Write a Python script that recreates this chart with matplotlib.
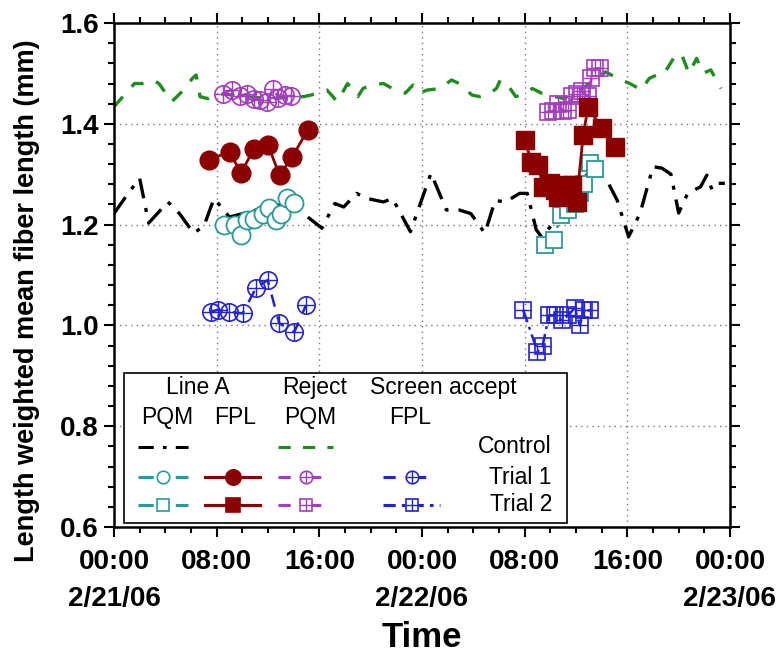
import matplotlib
matplotlib.use("Agg")
import matplotlib.pyplot as plt
from matplotlib.lines import Line2D
from matplotlib.patches import Rectangle
from matplotlib.ticker import MultipleLocator

plt.rcParams['font.family'] = ['Liberation Sans', 'DejaVu Sans']

# hours since 2/21/06 00:00
ctrl_pqm_t = [0.0, 1.1, 2.0, 2.7, 4.2, 5.1, 6.2, 7.0, 7.8, 9.0, 10.5, 12.0, 13.2, 14.4,
              16.2, 17.2, 17.9, 18.9, 19.7, 21.0, 21.7, 23.1, 24.7, 25.9, 26.9, 27.8,
              28.9, 29.7, 30.5, 31.6, 32.2, 32.9, 33.3, 34.5, 35.8, 37.2, 38.4, 39.2,
              40.1, 41.0, 42.0, 42.7, 43.4, 44.0, 44.7, 45.7, 46.2, 46.6, 47.1, 47.6]
ctrl_pqm_v = [1.222, 1.262, 1.292, 1.203, 1.245, 1.222, 1.183, 1.197, 1.252, 1.215, 1.225,
              1.235, 1.24, 1.229, 1.193, 1.242, 1.235, 1.262, 1.252, 1.245, 1.252, 1.186,
              1.302, 1.229, 1.229, 1.222, 1.183, 1.248, 1.245, 1.262, 1.262, 1.19, 1.176,
              1.21, 1.25, 1.315, 1.288, 1.249, 1.176, 1.223, 1.315, 1.312, 1.30, 1.223,
              1.262, 1.275, 1.298, 1.269, 1.282, 1.282]

ctrl_rej_t = [0.0, 0.8, 1.6, 2.2, 3.0, 3.5, 4.5, 5.3, 6.1, 6.4, 6.7, 7.3, 8.1, 10.0, 12.0,
              14.8, 16.0, 16.6, 17.4, 18.2, 19.0, 19.4, 20.0, 21.0, 21.9, 22.7, 23.3,
              23.8, 24.4, 25.4, 26.3, 26.9, 27.9, 28.5, 29.3, 29.8, 30.1, 30.6, 31.3,
              31.7, 32.6, 33.3, 35.0, 36.5, 38.3, 39.5, 40.2, 41.1, 41.7, 42.3, 42.8,
              43.6, 44.2, 44.8, 45.4, 45.9, 46.5, 47.3]
ctrl_rej_v = [1.434, 1.457, 1.48, 1.48, 1.487, 1.48, 1.444, 1.464, 1.49, 1.497, 1.454,
              1.45, 1.46, 1.455, 1.45, 1.454, 1.461, 1.467, 1.444, 1.48, 1.454, 1.47,
              1.477, 1.48, 1.467, 1.461, 1.477, 1.461, 1.467, 1.47, 1.487, 1.48, 1.457,
              1.454, 1.461, 1.47, 1.487, 1.48, 1.454, 1.457, 1.47, 1.461, 1.45, 1.47,
              1.503, 1.487, 1.48, 1.467, 1.49, 1.497, 1.497, 1.53, 1.54, 1.50, 1.53,
              1.50, 1.507, 1.47]

# Trial 1 (2/21)
t1_pqm_t = [8.6, 9.4, 9.9, 10.4, 10.9, 11.6, 12.1, 12.6, 13.0, 13.5, 14.05]
t1_pqm_v = [1.20, 1.20, 1.18, 1.209, 1.212, 1.222, 1.232, 1.209, 1.222, 1.252, 1.242]
t1_fpl_t = [7.4, 9.0, 9.9, 10.9, 12.0, 12.9, 13.9, 15.1]
t1_fpl_v = [1.328, 1.345, 1.302, 1.351, 1.358, 1.298, 1.335, 1.388]
t1_rej_t = [8.5, 9.2, 9.8, 10.4, 10.9, 11.4, 11.9, 12.4, 12.8, 13.3, 13.8]
t1_rej_v = [1.46, 1.468, 1.455, 1.46, 1.45, 1.448, 1.443, 1.47, 1.452, 1.458, 1.455]
t1_scr_t = [7.55, 8.07, 8.98, 10.02, 11.06, 11.97, 12.88, 14.05, 14.96]
t1_scr_v = [1.027, 1.031, 1.027, 1.024, 1.074, 1.09, 1.004, 0.987, 1.04]

# Trial 2 (2/22)
t2_pqm_t = [33.6, 34.3, 34.8, 35.4, 35.9, 36.3, 36.6, 37.1, 37.5]
t2_pqm_v = [1.16, 1.17, 1.22, 1.23, 1.24, 1.262, 1.28, 1.322, 1.31]
t2_fpl_t = [32.0, 32.53, 33.05, 33.44, 33.96, 34.35, 34.61, 35.13, 35.65, 36.04,
            36.56, 36.95, 37.99, 39.03]
t2_fpl_v = [1.368, 1.325, 1.318, 1.275, 1.282, 1.269, 1.255, 1.279, 1.279, 1.245,
            1.378, 1.434, 1.391, 1.355]
t2_rej_t = [33.8, 34.2, 34.6, 35.0, 35.4, 35.7, 36.1, 36.5, 36.9, 37.2, 37.5, 37.9]
t2_rej_v = [1.424, 1.425, 1.44, 1.425, 1.427, 1.455, 1.46, 1.465, 1.455, 1.49, 1.51, 1.51]
t2_scr_t = [31.9, 33.0, 33.4, 33.9, 34.4, 34.9, 35.4, 35.9, 36.3, 36.6, 37.1]
t2_scr_v = [1.03, 0.948, 0.96, 1.02, 1.02, 1.01, 1.02, 1.035, 1.00, 1.03, 1.03]

xtick_pos = [0, 8, 16, 24, 32, 40, 48]
xtick_lab = ['00:00\n2/21/06', '08:00', '16:00', '00:00\n2/22/06', '08:00', '16:00',
             '00:00\n2/23/06']

black = 'black'
green = '#1e8c1e'
teal = '#2a9a98'
dred = '#8b0000'
purple = '#a43cc0'
blue = '#2323d2'

fig = plt.figure(figsize=(7.83, 6.6), dpi=100)
ax = fig.add_axes([0.1456, 0.2015, 0.7867, 0.7636])

ax.plot(ctrl_pqm_t, ctrl_pqm_v, color=black, lw=2.4, ls=(0, (6, 3, 1.2, 3)), zorder=2)
ax.plot(ctrl_rej_t, ctrl_rej_v, color=green, lw=2.4, ls=(0, (4, 4)), zorder=2)

def plus_marker(t, v, color, marker, ms, ls, lw=1.8):
    ax.plot(t, v, color=color, ls=ls, lw=lw, marker=marker, ms=ms, mfc='none',
            mec=color, mew=1.2, zorder=4)
    ax.plot(t, v, ls='none', marker='+', ms=ms, mec=color, mew=1.0, zorder=4)

# trial 1
ax.plot(t1_pqm_t, t1_pqm_v, color=teal, ls=(0, (6, 3, 1.2, 3)), lw=1.8, marker='o',
        ms=13, mfc='white', mec=teal, mew=1.3, zorder=3)
ax.plot(t1_fpl_t, t1_fpl_v, color=dred, ls='-', lw=2.0, marker='o', ms=13.5,
        mfc=dred, mec=dred, zorder=5)
plus_marker(t1_rej_t, t1_rej_v, purple, 'o', 12.5, (0, (4, 3)))
plus_marker(t1_scr_t, t1_scr_v, blue, 'o', 12.5, (0, (5, 4)))

# trial 2
ax.plot(t2_pqm_t, t2_pqm_v, color=teal, ls=(0, (6, 3, 1.2, 3)), lw=1.8, marker='s',
        ms=12, mfc='white', mec=teal, mew=1.3, zorder=3)
ax.plot(t2_fpl_t, t2_fpl_v, color=dred, ls='-', lw=2.0, marker='s', ms=13,
        mfc=dred, mec=dred, zorder=5)
plus_marker(t2_rej_t, t2_rej_v, purple, 's', 11.5, (0, (4, 3)))
plus_marker(t2_scr_t, t2_scr_v, blue, 's', 11.5, (0, (5, 2, 1.2, 2)))

ax.set_xlim(0, 48)
ax.set_ylim(0.6, 1.6)
ax.xaxis.set_major_locator(MultipleLocator(8))
ax.xaxis.set_minor_locator(MultipleLocator(2))
ax.yaxis.set_major_locator(MultipleLocator(0.2))
ax.yaxis.set_minor_locator(MultipleLocator(0.04))
ax.set_xticks(xtick_pos)
ax.set_xticklabels(xtick_lab, fontsize=20, fontweight='bold', linespacing=1.55)
ax.set_yticks([0.6, 0.8, 1.0, 1.2, 1.4, 1.6])
ax.set_yticklabels(['0.6', '0.8', '1.0', '1.2', '1.4', '1.6'], fontsize=20,
                   fontweight='bold')
ax.tick_params(which='both', direction='out', top=True, right=True, labeltop=False,
               labelright=False, width=1.5)
ax.tick_params(which='major', length=7, pad=4)
ax.tick_params(axis='x', which='major', pad=9)
ax.tick_params(which='minor', length=4)
for s in ax.spines.values():
    s.set_linewidth(1.8)
ax.grid(True, which='major', ls=(0, (1, 3)), color='#777777', lw=1.0)

ax.set_ylabel('Length weighted mean fiber length (mm)', fontsize=19.5,
              fontweight='bold')
ax.yaxis.set_label_coords(-0.12, 0.45)
ax.set_xlabel('Time', fontsize=25, fontweight='bold', labelpad=6)

# custom legend table
tr = ax.transAxes
ax.add_patch(Rectangle((0.016, 0.008), 0.719, 0.298, transform=tr, facecolor='white',
                       edgecolor='black', lw=1.2, zorder=8))
fs = 16.5
for x, y, s in [(0.136, 0.276, 'Line A'), (0.325, 0.276, 'Reject'),
                (0.534, 0.276, 'Screen accept'), (0.086, 0.218, 'PQM'),
                (0.196, 0.218, 'FPL'), (0.318, 0.218, 'PQM'), (0.48, 0.218, 'FPL')]:
    ax.text(x, y, s, transform=tr, ha='center', va='center', fontsize=fs, zorder=9)
for y, s in [(0.159, 'Control'), (0.099, 'Trial 1'), (0.044, 'Trial 2')]:
    ax.text(0.711, y, s, transform=tr, ha='right', va='center', fontsize=fs, zorder=9)

def sample(x0, x1, y, color, ls, marker=None, mfc='none', plus=False, ms=9):
    ax.add_line(Line2D([x0, x1], [y, y], transform=tr, color=color, ls=ls, lw=2.2,
                       zorder=9))
    if marker:
        xm = [(x0 + x1) / 2]
        ax.add_line(Line2D(xm, [y], transform=tr, ls='none', marker=marker, ms=ms,
                           mfc=mfc, mec=color, mew=1.2, zorder=10))
        if plus:
            ax.add_line(Line2D(xm, [y], transform=tr, ls='none', marker='+', ms=ms,
                               mec=color, mew=1.0, zorder=10))

sample(0.039, 0.12, 0.159, black, (0, (5, 3, 1.2, 3)))
sample(0.266, 0.356, 0.159, green, (0, (4, 4)))
sample(0.039, 0.12, 0.099, teal, (0, (5, 3, 1.2, 3)), 'o', 'white')
sample(0.148, 0.237, 0.099, dred, '-', 'o', dred, ms=11)
sample(0.266, 0.356, 0.099, purple, (0, (4, 6)), 'o', 'white', True)
sample(0.437, 0.529, 0.099, blue, (0, (4, 6)), 'o', 'white', True)
sample(0.039, 0.12, 0.044, teal, (0, (5, 3, 1.2, 3)), 's', 'white')
sample(0.148, 0.237, 0.044, dred, '-', 's', dred, ms=10)
sample(0.266, 0.356, 0.044, purple, (0, (4, 6)), 's', 'white', True)
sample(0.437, 0.529, 0.044, blue, (0, (4, 2, 1.2, 2)), 's', 'white', True)

fig.savefig('out.png', dpi=100)
